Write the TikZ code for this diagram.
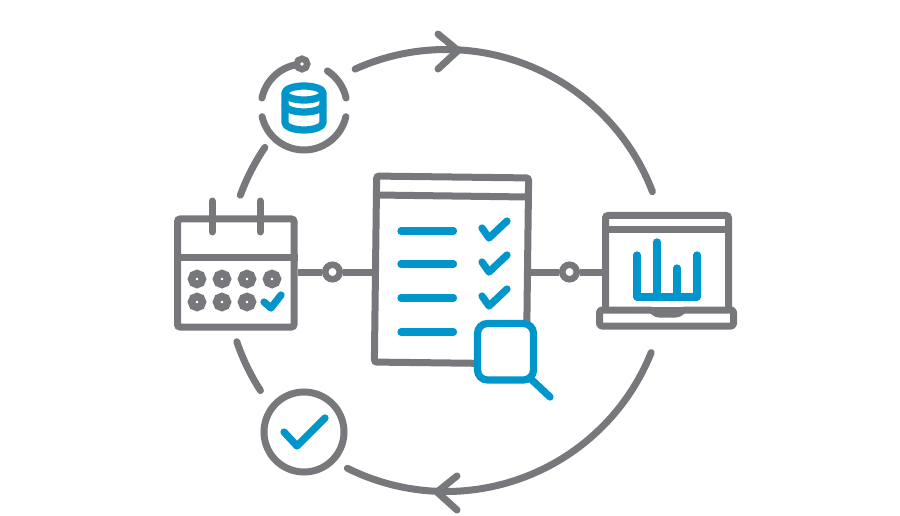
\documentclass[tikz,border=0pt]{standalone}
\usepackage{tikz}
\usetikzlibrary{positioning}
\definecolor{icongrey}{HTML}{77787B}
\definecolor{iconblue}{HTML}{0095CB}
\tikzset{
  ring/.style={draw=icongrey,line width=1.4mm,line cap=round,line join=round},
  bar/.style={draw=icongrey,line width=1.4mm},
  tick/.style={draw=iconblue,line width=1.45mm,line cap=round,line join=round},
  panel/.style={draw=icongrey,fill=white,line width=1.4mm,rounded corners=.5mm,inner sep=0pt},
  hub/.style={draw=icongrey,fill=white,circle,line width=1.3mm,inner sep=0pt,minimum size=2.9mm},
  dot/.style={draw=icongrey,fill=white,circle,line width=1.5mm,inner sep=0pt,minimum size=2.2mm},
}
\begin{document}
\begin{tikzpicture}[x=.2mm,y=.2mm]
    \useasboundingbox (0,0) rectangle (900,-516);
    \coordinate (ringc) at (446,-270.5);
    \draw[ring,shift={(ringc)}] (114.3:221) arc[start angle=114.3,end angle=20.9,radius=221];
    \draw[ring,shift={(ringc)}] (-21.8:221) arc[start angle=-21.8,end angle=-116.5,radius=221];
    \draw[ring,shift={(ringc)}] (145.8:219) arc[start angle=145.8,end angle=159.9,radius=219];
    \draw[ring,shift={(ringc)}] (198.8:221) arc[start angle=198.8,end angle=212.9,radius=221];
    \draw[ring] (438,-34) -- (458,-50.5) -- (438,-69);
    \draw[ring] (457,-476) -- (437,-492) -- (457,-510);
    % database
    \coordinate (dbc) at (304,-107);
    \draw[ring,shift={(dbc)}] (168:43) arc[start angle=168,end angle=93,radius=43];
    \draw[ring,shift={(dbc)}] (57:43) arc[start angle=57,end angle=12,radius=43];
    \draw[ring,shift={(dbc)}] (-13:43) arc[start angle=-13,end angle=-167,radius=43];
    \node[dot,line width=1.3mm,minimum size=2.1mm] (dbpin) at (302,-64) {};
    \draw[tick] (304,-93) ellipse[x radius=19,y radius=7];
    \draw[tick] (285,-93) -- (285,-122.5) arc[start angle=180,end angle=360,x radius=19,y radius=7.5] -- (323,-93);
    \draw[tick] (285,-105) arc[start angle=180,end angle=360,x radius=19,y radius=7];
    % calendar
    \node[panel,minimum width=23.3mm,minimum height=21.6mm] (cal) at (235.75,-273) {};
    \draw[bar] (cal.west |- 0,-257) -- (cal.east |- 0,-257);
    \draw[ring] (212,-201) -- (212,-232);
    \draw[ring] (260,-201) -- (260,-232);
    \foreach \x/\y in {197/279,222/279,247/279,272/279,197/302,222/302,247/302}
      \node[dot] (d\x\y) at (\x,-\y) {};
    \draw[tick] (264,-302) -- (271,-308) -- (281,-295);
    % document
    \node[hub] (hubl) at (332.5,-272) {};
    \node[hub] (hubr) at (569.5,-272) {};
    \draw[bar] (cal.east |- hubl) -- (hubl);
    \node[panel,rotate=-.7,minimum width=30.4mm,minimum height=37.2mm] (doc) at (451.5,-270) {};
    \draw[bar] (hubl) -- (hubl -| doc.west);
    \draw[bar] (376,-195) -- (528,-197);
    \foreach \y in {231,264,298,332}
      \draw[tick] (401,-\y) -- (453.5,-\y);
    \foreach \y in {0,34,68}
      \draw[tick,yshift=-\y*.2mm] (482,-228) -- (489,-238) -- (507,-221);
    % magnifier
    \draw[tick] (532,-380) -- (550,-397);
    \node[panel,draw=iconblue,line width=1.45mm,rounded corners=2mm,minimum width=11.2mm,minimum height=11.3mm] (lens) at (505.5,-351.75) {};
    % laptop
    \draw[bar] (hubr -| doc.east) -- (hubr);
    \node[panel,minimum width=24.6mm,minimum height=19mm] (screen) at (667,-263) {};
    \draw[bar] (screen.east |- 0,-229) -- (screen.west |- 0,-229);
    \draw[bar] (hubr) -- (hubr -| screen.west);
    \draw[ring,fill=white,rounded corners=.5mm] (599.5,-310) -- (652,-310) -- (656.5,-314) -- (678.5,-314) -- (683,-310) -- (733.5,-310) -- (733.5,-326) -- (599.5,-326) -- cycle;
    \draw[tick] (637,-255) -- (637,-297) -- (697,-297) -- (697,-255);
    \draw[tick] (657,-242) -- (657,-297);
    \draw[tick] (677,-268) -- (677,-297);
    % done
    \node[hub,line width=1.4mm,minimum size=16mm] (done) at (304,-432) {};
    \draw[tick] (284,-432) -- (297,-446) -- (325,-418);
  \end{tikzpicture}
\end{document}
